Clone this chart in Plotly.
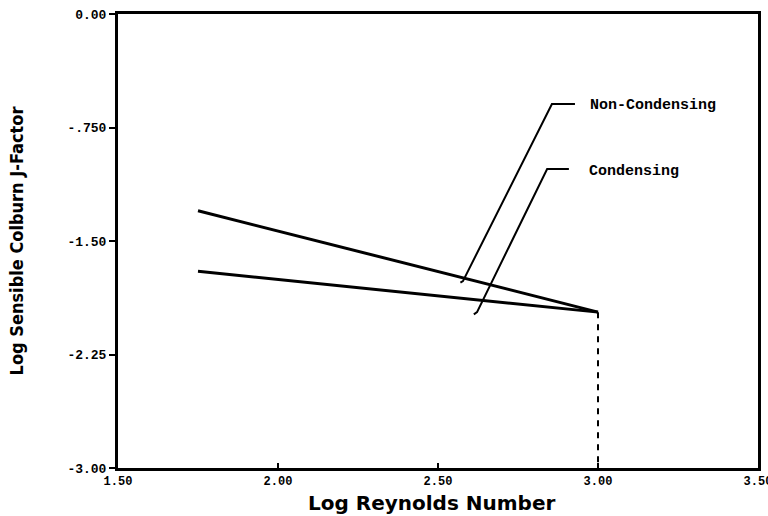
import plotly.graph_objects as go

# Data
noncond_x = [1.75, 3.00]
noncond_y = [-1.30, -1.97]
cond_x = [1.75, 3.00]
cond_y = [-1.70, -1.97]
drop_x = [3.00, 3.00]
drop_y = [-1.97, -3.00]

# Label leader lines
noncond_leader_x = [2.570, 2.578, 2.856, 2.928]
noncond_leader_y = [-1.775, -1.765, -0.595, -0.595]
cond_leader_x = [2.612, 2.622, 2.841, 2.909]
cond_leader_y = [-1.985, -1.970, -1.024, -1.024]

label_names = ["Non-Condensing", "Condensing"]
label_x = [2.968, 2.966]
label_y = [-0.606, -1.044]

x_ticks = [1.5, 2.0, 2.5, 3.0, 3.5]
x_ticklabels = ["1.50", "2.00", "2.50", "3.00", "3.50"]
y_ticks = [0.0, -0.75, -1.5, -2.25, -3.0]
y_ticklabels = ["0.00", "-.750", "-1.50", "-2.25", "-3.00"]

fig = go.Figure()
line_style = dict(color="black", width=3)
fig.add_trace(go.Scatter(x=noncond_x, y=noncond_y, mode="lines", line=line_style,
                         name="Non-Condensing", showlegend=False))
fig.add_trace(go.Scatter(x=cond_x, y=cond_y, mode="lines", line=line_style,
                         name="Condensing", showlegend=False))
fig.add_trace(go.Scatter(x=drop_x, y=drop_y, mode="lines",
                         line=dict(color="black", width=2, dash="6px,6px"),
                         showlegend=False))
fig.add_trace(go.Scatter(x=noncond_leader_x, y=noncond_leader_y, mode="lines",
                         line=dict(color="black", width=2), showlegend=False))
fig.add_trace(go.Scatter(x=cond_leader_x, y=cond_leader_y, mode="lines",
                         line=dict(color="black", width=2), showlegend=False))

for name, lx, ly in zip(label_names, label_x, label_y):
    fig.add_annotation(x=lx, y=ly, text=name, showarrow=False, xanchor="left",
                       yanchor="middle",
                       font=dict(family="Liberation Mono", size=15, color="black",
                                 weight="bold"))

# X-axis title placed below the tick labels
fig.add_annotation(xref="paper", yref="paper", x=0.49, y=-0.077,
                   xanchor="center", yanchor="middle", showarrow=False,
                   text="Log Reynolds Number",
                   font=dict(family="DejaVu Sans", size=20, color="black",
                             weight="bold"))

tick_font = dict(family="Liberation Mono", size=13, color="black", weight="bold")
xtick_font = dict(family="Liberation Mono", size=12, color="black", weight="bold")

fig.update_xaxes(range=[1.5, 3.5], tickvals=x_ticks, ticktext=x_ticklabels,
                 showgrid=False, zeroline=False, showline=True, linecolor="black",
                 linewidth=3, mirror=True, ticks="inside", ticklen=5, tickwidth=2,
                 tickcolor="black", tickfont=xtick_font, ticklabelstandoff=0,
                 ticklabeloverflow="allow", automargin=False)
fig.update_yaxes(range=[-3.0, 0.0], tickvals=y_ticks, ticktext=y_ticklabels,
                 showgrid=False, zeroline=False, showline=True, linecolor="black",
                 linewidth=3, mirror=True, ticks="outside", ticklen=6, tickwidth=2,
                 tickcolor="black", tickfont=tick_font, automargin=False,
                 title=dict(text="Log Sensible Colburn J-Factor", standoff=40,
                            font=dict(family="DejaVu Sans Condensed", size=18,
                                      color="black", weight="bold")))

fig.update_layout(width=768, height=516,
                  margin=dict(l=118, r=10, t=14, b=48),
                  plot_bgcolor="white", paper_bgcolor="white")

fig.write_html("out.html")
